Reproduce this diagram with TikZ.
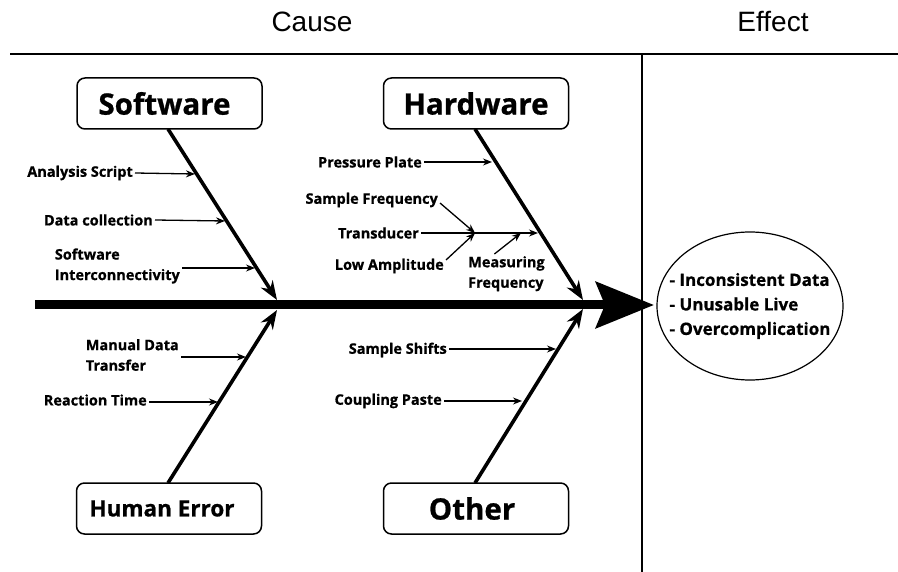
\documentclass[tikz,border=0pt]{standalone}
\usepackage{fontspec}
\setmainfont{Open Sans}[BoldFeatures={FakeBold=0.8}]
\newfontfamily\titlefont{Liberation Sans}
\usetikzlibrary{arrows.meta,shapes.geometric,calc}

\tikzset{
  catbox/.style={draw, line width=1.5pt, rounded corners=8pt, minimum width=185pt,
    minimum height=51pt, inner sep=0pt, font=\bfseries\fontsize{29.5}{32}\selectfont},
  bone/.style={line width=3.6pt, -{Stealth[length=19pt,width=14pt]}},
  twig/.style={line width=1.3pt, -{Stealth[length=9pt,width=7pt]}},
  cause/.style={font=\bfseries\fontsize{14.5}{20.5}\selectfont, inner sep=2pt, align=left},
  heading/.style={font=\titlefont\fontsize{28}{30}\selectfont},
}

\begin{document}
\begin{tikzpicture}[x=1pt, y=-1pt]
\useasboundingbox (0,0) rectangle (898,572);

% frame lines and headings
\draw[line width=1.2pt] (10,54) -- (898,54);
\draw[line width=1.2pt] (642,54) -- (642,572);
\node[heading] (causeT) at (312,22) {Cause};
\node[heading] (effectT) at (773,22) {Effect};

% spine
\coordinate (spL) at (35,305);
\coordinate (spR) at (654,305);
\draw[line width=9pt, -{Stealth[length=58pt,width=46pt,inset=9pt]}] (spL) -- (spR);

% effect
\node[draw, ellipse, line width=1.2pt, minimum width=186pt, minimum height=148pt,
  inner sep=0pt] (effect) at (750,306) {};
\node[align=left, inner sep=0pt, font=\bfseries\fontsize{17}{24.5}\selectfont]
  (effectT) at (effect.center) {- Inconsistent Data\\- Unusable Live\\- Overcomplication};

% category boxes
\node[catbox] (sw) at (169.5,103.5) {\hspace*{-10pt}Software};
\node[catbox] (hw) at (476,103.5) {Hardware};
\node[catbox, font=\bfseries\fontsize{22.5}{26}\selectfont] (he) at (169,508.5) {\hspace*{-14pt}Human Error};
\node[catbox] (ot) at (476,508.5) {\hspace*{-8pt}Other};

% bone heads on the spine
\coordinate (swT) at (277,300);
\coordinate (hwT) at (583,300);
\coordinate (heT) at (277,310);
\coordinate (otT) at (583,309);

\draw[bone] (168,129) -- (swT);
\draw[bone] (475,129) -- (hwT);
\draw[bone] (168,483) -- (heT);
\draw[bone] (475,483) -- (otT);

% software causes
\node[cause, anchor=east] (as) at (135,173) {Analysis Script};
\node[cause, anchor=east] (dc) at (155,220) {Data collection};
\node[cause, anchor=east] (si) at (182,266) {Software\\Interconnectivity};
\coordinate (asT) at (195,174);
\coordinate (dcT) at (225,221);
\coordinate (siT) at (255,268);
\draw[twig] (as.east) -- (asT);
\draw[twig] (dc.east) -- (dcT);
\draw[twig] (si.east |- siT) -- (siT);

% hardware causes
\node[cause, anchor=east] (pp) at (424,162) {Pressure Plate};
\node[cause, anchor=east] (sf) at (440,200) {Sample Frequency};
\node[cause, anchor=east] (td) at (421,233) {Transducer};
\node[cause, anchor=east] (la) at (446,266) {Low Amplitude};
\node[cause, anchor=north west] (mf) at (466,254) {Measuring\\Frequency};
\coordinate (ppT) at (492,162);
\coordinate (tdT) at (538,233);
\coordinate (jn) at (475,233);
\coordinate (jm) at (521,233);
\draw[twig] ([yshift=-3pt]sf.east) -- (jn);
\draw[twig] ([yshift=6pt]la.east) -- (jn);
\draw[twig] (pp.east) -- (ppT);
\draw[twig] (td.east) -- (tdT);
\draw[twig] ([xshift=-12pt]mf.north) -- (jm);

% human error causes
\node[cause, anchor=east] (md) at (181,355) {Manual Data\\Transfer};
\node[cause, anchor=east] (rt) at (149,400) {Reaction Time};
\coordinate (mdT) at (246,357);
\coordinate (rtT) at (218,402);
\draw[twig] (md.east |- mdT) -- (mdT);
\draw[twig] (rt.east |- rtT) -- (rtT);

% other causes
\node[cause, anchor=east] (ss) at (449,350) {Sample Shifts};
\node[cause, anchor=east] (cp) at (444,401) {Coupling Paste};
\coordinate (ssT) at (556,349);
\coordinate (cpT) at (522,401);
\draw[twig] (ss.east |- ssT) -- (ssT);
\draw[twig] (cp.east |- cpT) -- (cpT);
\end{tikzpicture}
\end{document}
